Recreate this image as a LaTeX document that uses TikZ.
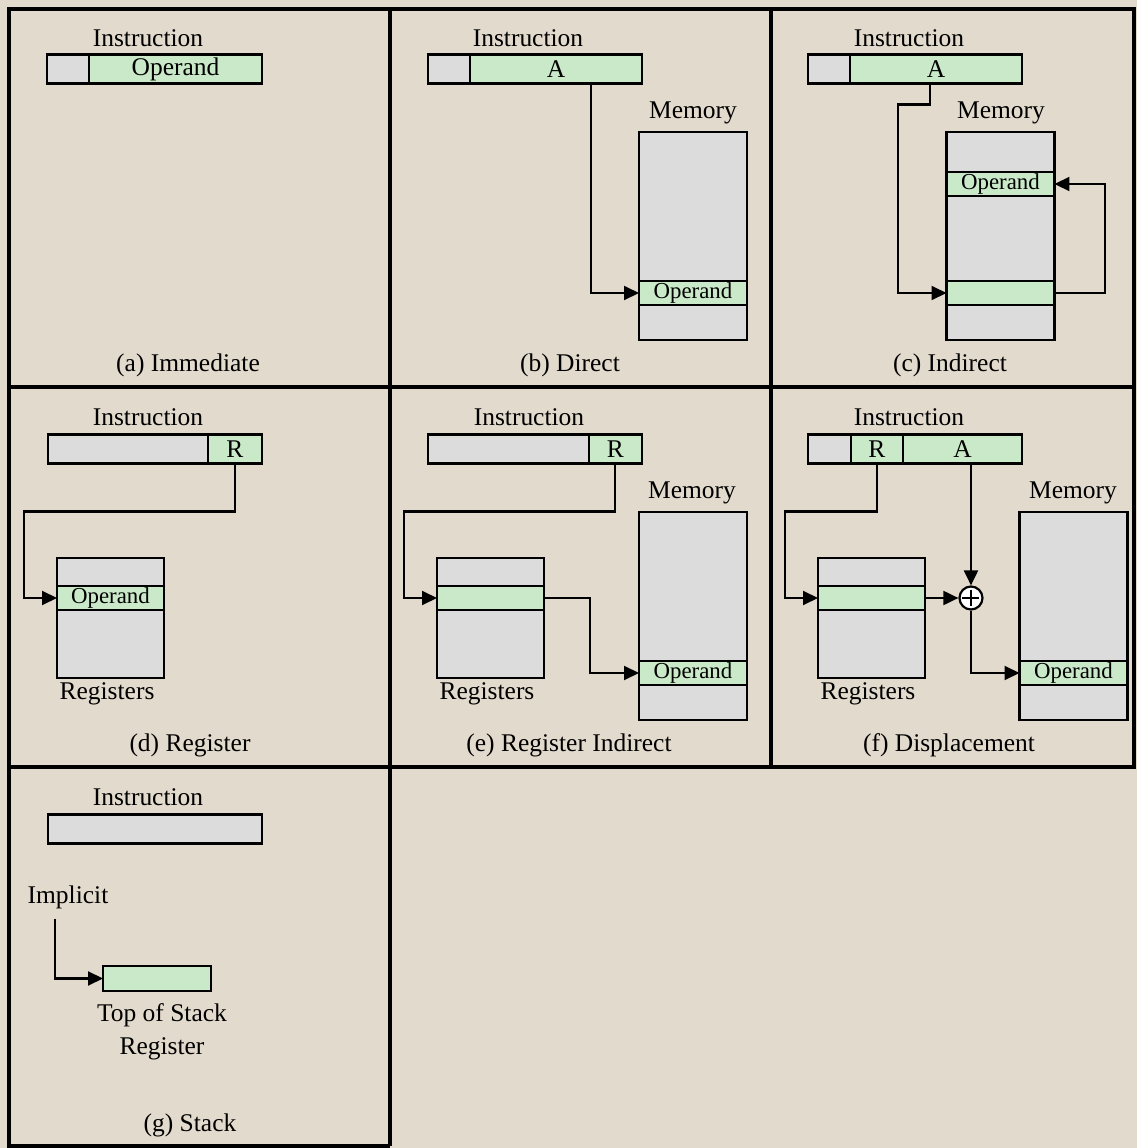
\documentclass[tikz,border=0pt]{standalone}
\usepackage{fontspec}
\setmainfont{Liberation Serif}
\usepackage{tikz}
\usetikzlibrary{arrows.meta,positioning,calc}
\definecolor{paper}{HTML}{E2DACC}
\definecolor{cellgray}{HTML}{DCDCDC}
\definecolor{cellgreen}{HTML}{C9E9C9}

\begin{document}
\begin{tikzpicture}[
  x=0.02cm, y=-0.02cm,
  gcell/.style={draw,fill=cellgray,line width=1.25pt,inner sep=0pt,outer sep=0pt,minimum height=0.58cm},
  pcell/.style={draw,fill=cellgreen,line width=1.25pt,inner sep=0pt,outer sep=0pt,minimum height=0.58cm,font=\fontsize{14.5}{17}\selectfont},
  slot/.style={draw,fill=cellgreen,line width=1.25pt,inner sep=0pt,outer sep=0pt,minimum height=0.48cm,font=\fontsize{13}{15}\selectfont},
  regs/.style={draw,fill=cellgray,line width=1.25pt,inner sep=0pt,outer sep=0pt,minimum width=2.14cm,minimum height=2.4cm},
  mem/.style={draw,fill=cellgray,line width=1.25pt,inner sep=0pt,outer sep=0pt,minimum width=2.16cm,minimum height=4.16cm},
  lbl/.style={inner sep=0pt,font=\fontsize{14.5}{18.5}\selectfont,align=center},
  frame/.style={line width=2.3pt,line join=miter},
  arr/.style={line width=1.15pt,-{Triangle[length=0.3cm,width=0.28cm]}},
  adder/.style={circle,draw,fill=white,line width=1.25pt,inner sep=0pt,minimum size=0.46cm,
    path picture={\draw[line width=1.1pt] ($(path picture bounding box.west)+(3,0)$) -- ($(path picture bounding box.east)+(-3,0)$)
      ($(path picture bounding box.north)+(0,3)$) -- ($(path picture bounding box.south)+(0,-3)$);}}]
  \fill[paper] (0,0) rectangle (1137,1148);

  % (a) Immediate
  \node[lbl] (insa) at (148,38) {Instruction};
  \node[gcell,minimum width=0.84cm] (opa) at (68,69) {};
  \node[pcell,minimum width=3.46cm,right=0pt of opa] (ia) {Operand};
  \node[lbl] (capa) at (188,365) {(a) Immediate};

  % (b) Direct
  \node[lbl] (insb) at (528,38) {Instruction};
  \node[gcell,minimum width=0.84cm] (opb) at (449,69) {};
  \node[pcell,minimum width=3.44cm,right=0pt of opb] (ab) {A};
  \node[lbl] (memlb) at (693,113) {Memory};
  \node[mem] (memb) at (693,236) {};
  \node[slot,minimum width=2.16cm] (memb-op) at (693,293) {Operand};
  \draw[arr] ([xshift=0.7cm]ab.south) |- (memb-op.west);
  \node[lbl] (capb) at (570,365) {(b) Direct};

  % (c) Indirect
  \node[lbl] (insc) at (909,38) {Instruction};
  \node[gcell,minimum width=0.84cm] (opc) at (829,69) {};
  \node[pcell,minimum width=3.44cm,right=0pt of opc] (ac) {A};
  \node[lbl] (memlc) at (1001,113) {Memory};
  \node[mem] (memc) at (1000.5,236) {};
  \node[slot,minimum width=2.16cm] (memc-op) at (1000.5,184) {Operand};
  \node[slot,minimum width=2.16cm] (memc-ptr) at (1000.5,293) {};
  \draw[arr] ([xshift=-0.12cm]ac.south) |- ++(-32,21) |- (memc-ptr.west);
  \draw[arr] (memc-ptr.east) -- ++(51,0) |- (memc-op.east);
  \node[lbl] (capc) at (950,365) {(c) Indirect};

  % (d) Register
  \node[lbl] (insd) at (148,417) {Instruction};
  \node[gcell,minimum width=3.2cm] (opd) at (128,449) {};
  \node[pcell,minimum width=1.08cm,right=0pt of opd] (rd) {R};
  \node[regs] (regd) at (110.5,618) {};
  \node[slot,minimum width=2.14cm] (regd-op) at (110.5,598) {Operand};
  \node[lbl] (reglb-d) at (107,694) {Registers};
  \draw[arr] (rd.south) |- ++(-211,48) |- (regd-op.west);
  \node[lbl] (capd) at (190,745) {(d) Register};

  % (e) Register Indirect
  \node[lbl] (inse) at (529,417) {Instruction};
  \node[gcell,minimum width=3.22cm] (ope) at (508.5,449) {};
  \node[pcell,minimum width=1.06cm,right=0pt of ope] (re) {R};
  \node[regs] (rege) at (490.5,618) {};
  \node[slot,minimum width=2.14cm] (rege-op) at (490.5,598) {};
  \node[lbl] (reglb-e) at (487,694) {Registers};
  \node[lbl] (memle) at (692,493) {Memory};
  \node[mem] (meme) at (693,616) {};
  \node[slot,minimum width=2.16cm] (meme-op) at (693,673) {Operand};
  \draw[arr] (re.south) |- ++(-211,48) |- (rege-op.west);
  \draw[arr] (rege-op.east) -- ++(46,0) |- (meme-op.west);
  \node[lbl] (cape) at (569,745) {(e) Register Indirect};

  % (f) Displacement
  \node[lbl] (insf) at (909,417) {Instruction};
  \node[gcell,minimum width=0.86cm] (opf) at (829.5,449) {};
  \node[pcell,minimum width=1.04cm,right=0pt of opf] (rf) {R};
  \node[pcell,minimum width=2.38cm,right=0pt of rf] (af) {A};
  \node[regs] (regf) at (871.5,618) {};
  \node[slot,minimum width=2.14cm] (regf-op) at (871.5,598) {};
  \node[lbl] (reglb-f) at (868,694) {Registers};
  \node[adder] (plus) at (971,598) {};
  \node[lbl] (memlf) at (1073,493) {Memory};
  \node[mem] (memf) at (1073.5,616) {};
  \node[slot,minimum width=2.16cm] (memf-op) at (1073.5,673) {Operand};
  \draw[arr] (rf.south) |- ++(-92,48) |- (regf-op.west);
  \draw[arr] (regf-op.east) -- (plus.west);
  \draw[arr] (af.south -| plus.north) -- (plus.north);
  \draw[arr] (plus.south) |- (memf-op.west);
  \node[lbl] (capf) at (949,745) {(f) Displacement};

  % (g) Stack
  \node[lbl] (insg) at (148,797) {Instruction};
  \node[gcell,minimum width=4.28cm] (opg) at (155,829) {};
  \node[lbl] (impl) at (68,897) {Implicit};
  \node[slot,minimum width=2.16cm,minimum height=0.5cm] (tos) at (157,978.5) {};
  \node[lbl] (toslb) at (162,1032) {Top of Stack\\Register};
  \draw[arr] ($(impl.south)+(-13,10)$) |- (tos.west);
  \node[lbl] (capg) at (190,1125) {(g) Stack};

  % panel frames
  \draw[frame] (9,9) rectangle (1134,767);
  \draw[frame] (9,387) -- (1134,387);
  \draw[frame] (390,9) -- (390,1146);
  \draw[frame] (771,9) -- (771,767);
  \draw[frame] (9,767) -- (9,1146) -- (390,1146);
\end{tikzpicture}
\end{document}
